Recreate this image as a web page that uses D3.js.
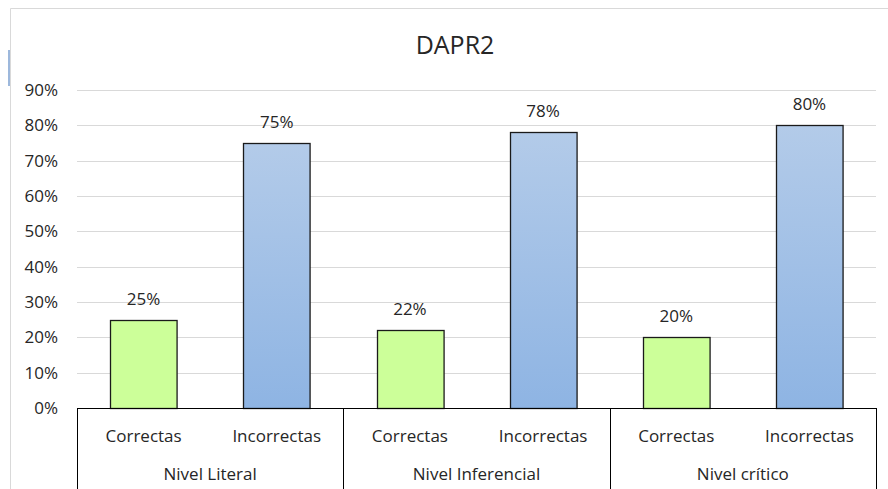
<!DOCTYPE html>
<html>
<head>
<meta charset="utf-8">
<script src="https://cdn.jsdelivr.net/npm/d3@7"></script>
<style>
  body { margin: 0; background: #fff; }
  text { font-family: "Open Sans", "Noto Sans", sans-serif; fill: #262626; }
</style>
</head>
<body>
<div id="container"></div>
<script>
let groups = ['Nivel Literal', 'Nivel Inferencial', 'Nivel crítico']
let subs = ['Correctas', 'Incorrectas']
let values = [25, 75, 22, 78, 20, 80]
let yTicks = [0, 10, 20, 30, 40, 50, 60, 70, 80, 90]

let width = 888, height = 489
let plotLeft = 77, plotRight = 876, plotTop = 90, plotBottom = 408

let svg = d3.select('#container').append('svg')
  .attr('width', width).attr('height', height)

// chart frame
svg.append('path')
  .attr('d', 'M10.5,489 V8.5 H888')
  .attr('fill', 'none').attr('stroke', '#d9d9d9')
svg.append('rect').attr('x', 8).attr('y', 50).attr('width', 2).attr('height', 36).attr('fill', '#9db8dc')

let defs = svg.append('defs')
let grad = defs.append('linearGradient').attr('id', 'blue').attr('x1', 0).attr('y1', 0).attr('x2', 0).attr('y2', 1)
grad.append('stop').attr('offset', '0%').attr('stop-color', '#b3cbe9')
grad.append('stop').attr('offset', '100%').attr('stop-color', '#8eb4e3')

let cats = []
groups.forEach(g => subs.forEach(s => cats.push(g + '|' + s)))

let x = d3.scaleBand().domain(cats).range([plotLeft, plotRight]).paddingInner(0).paddingOuter(0)
let xg = d3.scaleBand().domain(groups).range([plotLeft, plotRight])
let y = d3.scaleLinear().domain([0, 90]).range([plotBottom, plotTop])

// gridlines
svg.append('g').selectAll('line').data(yTicks.slice(1)).enter().append('line')
  .attr('x1', plotLeft).attr('x2', plotRight)
  .attr('y1', d => Math.round(y(d)) + 0.5).attr('y2', d => Math.round(y(d)) + 0.5)
  .attr('stroke', '#d9d9d9').attr('stroke-width', 1)

// y labels
svg.append('g').selectAll('text').data(yTicks).enter().append('text')
  .attr('x', 58).attr('y', d => y(d) + 6)
  .attr('text-anchor', 'end').attr('font-size', 17)
  .text(d => d + '%')

// bars
let bw = x.bandwidth() * 0.5
svg.append('g').selectAll('rect').data(values).enter().append('rect')
  .attr('x', (d, i) => Math.round(x(cats[i]) + (x.bandwidth() - bw) / 2) + 0.5)
  .attr('y', d => Math.round(y(d)) + 0.5)
  .attr('width', bw)
  .attr('height', d => plotBottom - Math.round(y(d)))
  .attr('fill', (d, i) => i % 2 === 0 ? '#ccff99' : 'url(#blue)')
  .attr('stroke', '#1a1a1a').attr('stroke-width', 1.3)

// value labels
svg.append('g').selectAll('text').data(values).enter().append('text')
  .attr('x', (d, i) => x(cats[i]) + x.bandwidth() / 2)
  .attr('y', d => y(d) - 15)
  .attr('text-anchor', 'middle').attr('font-size', 17)
  .text(d => d + '%')

// axis lines
svg.append('line').attr('x1', plotLeft).attr('x2', plotRight)
  .attr('y1', plotBottom + 0.5).attr('y2', plotBottom + 0.5)
  .attr('stroke', '#000').attr('stroke-width', 1)
let seps = groups.map(g => xg(g)).concat([plotRight])
svg.append('g').selectAll('line').data(seps).enter().append('line')
  .attr('x1', d => Math.round(d) + 0.5).attr('x2', d => Math.round(d) + 0.5)
  .attr('y1', plotBottom).attr('y2', height)
  .attr('stroke', '#000').attr('stroke-width', 1)

// category labels
svg.append('g').selectAll('text').data(cats).enter().append('text')
  .attr('x', d => x(d) + x.bandwidth() / 2).attr('y', 442)
  .attr('text-anchor', 'middle').attr('font-size', 17)
  .text(d => d.split('|')[1])

svg.append('g').selectAll('text').data(groups).enter().append('text')
  .attr('x', d => xg(d) + xg.bandwidth() / 2).attr('y', 480)
  .attr('text-anchor', 'middle').attr('font-size', 17)
  .text(d => d)

// title
svg.append('text').attr('x', 455).attr('y', 54)
  .attr('text-anchor', 'middle').attr('font-size', 25)
  .text('DAPR2')
</script>
</body>
</html>
